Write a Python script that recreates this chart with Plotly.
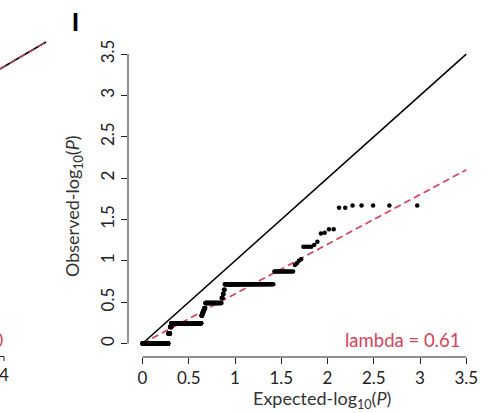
import numpy as np
import plotly.graph_objects as go

# Observed -log10(P) values (sorted, descending) and how many tests share each value
obs_levels = [1.67, 1.64, 1.38, 1.34, 1.33, 1.23, 1.19, 1.17, 1.02, 1.00, 0.97, 0.95,
              0.87, 0.716, 0.65, 0.60, 0.55, 0.49, 0.43, 0.40, 0.37, 0.34,
              0.244, 0.20, 0.12, 0.0]
obs_counts = [5, 2, 2, 1, 1, 1, 1, 4, 1, 1, 1, 1,
              14, 85, 3, 3, 4, 65, 5, 5, 5, 5,
              240, 15, 20, 442]
lambda_value = 0.61
fit_slope = 0.60
x_ticks = [0, 0.5, 1, 1.5, 2, 2.5, 3, 3.5]
y_ticks = [0, 0.5, 1, 1.5, 2, 2.5, 3, 3.5]

observed = np.repeat(obs_levels, obs_counts)
n = len(observed)
ranks = np.arange(1, n + 1)
expected = -np.log10(ranks / (n + 1))

W, H = 498, 413
ML, MR, MT, MB = 128, 18, 42, 56
PW, PH = W - ML - MR, H - MT - MB
def pxx(px):
    return (px - ML) / PW
def pxy(py):
    return (H - MB - py) / PH

RED = "#d6435a"
FONT = "Lato"

fig = go.Figure()
ref = [0, 3.5]
fig.add_trace(go.Scatter(x=ref, y=ref, mode="lines",
                         line=dict(color="black", width=1.6), hoverinfo="skip"))
fig.add_trace(go.Scatter(x=ref, y=[v * fit_slope for v in ref], mode="lines",
                         line=dict(color=RED, width=1.7, dash="7px,4px"), hoverinfo="skip"))
fig.add_trace(go.Scatter(x=expected, y=observed, mode="markers",
                         marker=dict(color="black", size=4.5, line=dict(width=0))))

arc = "M {:.4f},{:.4f} Q {:.4f},{:.4f} {:.4f},{:.4f}".format(
    pxx(0), pxy(334), pxx(4), pxy(340), pxx(0), pxy(346))
shapes = [
    dict(type="line", xref="x", yref="paper", x0=0, x1=3.5, y0=0, y1=0,
         line=dict(color="#222", width=1)),
    dict(type="line", xref="paper", yref="y", x0=0, x1=0, y0=0, y1=3.5,
         line=dict(color="#222", width=1)),
    # fragments of the neighbouring panel
    dict(type="line", xref="paper", yref="paper", x0=pxx(0), y0=pxy(69), x1=pxx(46), y1=pxy(42),
         line=dict(color="black", width=1.6)),
    dict(type="line", xref="paper", yref="paper", x0=pxx(0), y0=pxy(69), x1=pxx(46), y1=pxy(42),
         line=dict(color=RED, width=1.2, dash="7px,4px")),
    dict(type="line", xref="paper", yref="paper", x0=pxx(0), y0=pxy(356.5), x1=pxx(4), y1=pxy(356.5),
         line=dict(color="#222", width=1)),
    dict(type="line", xref="paper", yref="paper", x0=pxx(4), y0=pxy(356.5), x1=pxx(4), y1=pxy(361),
         line=dict(color="#222", width=1)),
    dict(type="path", xref="paper", yref="paper", path=arc, line=dict(color=RED, width=1.6)),
]

annotations = [
    dict(text="lambda = 0.61", x=3.45, y=0.0, xref="x", yref="y", xanchor="right",
         yanchor="middle", yshift=4, showarrow=False, font=dict(family=FONT, size=18.5, color=RED)),
    dict(text="Expected-log<sub>10</sub>(<i>P</i>)", x=pxx(321.5), y=pxy(399.5), xref="paper",
         yref="paper", xanchor="center", yanchor="middle", showarrow=False,
         font=dict(family=FONT, size=18, color="#333")),
    dict(text="Observed-log<sub>10</sub>(<i>P</i>)", x=pxx(74), y=pxy(206), xref="paper",
         yref="paper", xanchor="center", yanchor="middle", textangle=-90, showarrow=False,
         font=dict(family=FONT, size=18, color="#333")),
    dict(text="<b>I</b>", x=pxx(75), y=pxy(22), xref="paper", yref="paper", xanchor="center",
         yanchor="middle", showarrow=False, font=dict(family="Liberation Sans", size=25, color="black")),
    dict(text="4", x=pxx(4), y=pxy(374), xref="paper", yref="paper", xanchor="center",
         yanchor="middle", showarrow=False, font=dict(family=FONT, size=17, color="#222")),
]

xr0 = -14.5 / 92.5
yr0 = -13.5 / 82.7
fig.update_layout(
    width=W, height=H, margin=dict(l=ML, r=MR, t=MT, b=MB, pad=0),
    paper_bgcolor="white", plot_bgcolor="white", showlegend=False,
    shapes=shapes, annotations=annotations,
    xaxis=dict(range=[xr0, xr0 + PW / 92.5], tickvals=x_ticks, ticktext=[f"{v:g}" for v in x_ticks],
               showgrid=False, zeroline=False, showline=False, ticks="outside", ticklen=6,
               tickcolor="#222", tickwidth=1, tickfont=dict(family=FONT, size=17, color="#222")),
    yaxis=dict(range=[yr0, yr0 + PH / 82.7], tickvals=y_ticks, ticktext=[f"{v:g}" for v in y_ticks],
               showgrid=False, zeroline=False, showline=False, ticks="outside", ticklen=6,
               tickcolor="#222", tickwidth=1, tickangle=-90,
               tickfont=dict(family=FONT, size=17, color="#222")),
)

fig.write_html("out.html", config={"displayModeBar": False},
               post_script="document.body.style.margin='0';document.body.style.overflow='hidden';")
